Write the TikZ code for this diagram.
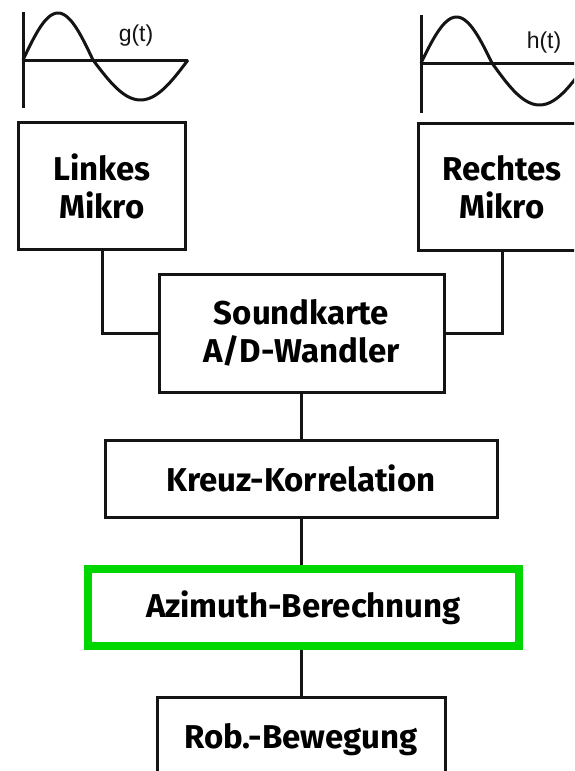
\documentclass[tikz,border=0pt]{standalone}
\usepackage{fontspec}
\setmainfont{Fira Sans}
\newfontfamily\plotfont{Liberation Sans}
\usetikzlibrary{positioning}
\definecolor{azigreen}{RGB}{0,214,0}
\definecolor{inkblack}{RGB}{20,20,20}
\newcommand\boxfont{\fontsize{33}{38}\selectfont\bfseries}
\tikzset{
  box/.style={draw=inkblack, line width=3pt, align=center, font=\boxfont, inner sep=0pt, fill=white},
  micbox/.style={box, minimum width=167pt, minimum height=127pt},
  wide/.style={box, minimum height=78pt},
  mark box/.style={box, draw=azigreen, line width=8pt},
  wire/.style={draw=inkblack, line width=3pt},
  wave/.style={draw=inkblack, line width=3pt},
  sig/.style={font=\plotfont\fontsize{23}{26}\selectfont, text=inkblack}}

\begin{document}
\begin{tikzpicture}[x=1pt, y=-1pt]
  \useasboundingbox (0,0) rectangle (574,771);
  \clip (0,0) rectangle (574,771);
  % signals
  \draw[wave] (23,12) -- (23,108);
  \draw[wave] (22,60) -- (188,60);
  \draw[wave, domain=0:1, samples=40, variable=\t] plot ({23+70*\t},{60-47*sin(180*\t)});
  \draw[wave, domain=0:1, samples=40, variable=\t] plot ({93+95*\t},{60+40*sin(180*\t)});
  \node[sig] (gl) at (136,36) {g(t)};
  \draw[wave] (421,15) -- (421,113);
  \draw[wave] (420,63) -- (580,63);
  \draw[wave, domain=0:1, samples=40, variable=\t] plot ({421+71*\t},{63-46*sin(180*\t)});
  \draw[wave, domain=0:1, samples=40, variable=\t] plot ({492+95*\t},{63+42*sin(180*\t)});
  \node[sig] (hl) at (544,43) {h(t)};
  % blocks
  \node[micbox] (lmic) at (102,186) {Linkes\\Mikro};
  \node[micbox, minimum width=168pt] (rmic) at (502,187) {Rechtes\\Mikro};
  \node[box, minimum width=285pt, minimum height=118pt] (sound) at (301.5,333) {Soundkarte\\A/D-Wandler};
  \node[wide, minimum width=392pt, minimum height=77pt] (kreuz) at (301,478.5) {Kreuz-Korrelation};
  \node[mark box, minimum width=431pt, minimum height=77pt] (azi) at (303.5,607.5) {Azimuth-Berechnung};
  \node[box, minimum width=288pt, minimum height=86pt] (rob) at (301,740) {Rob.-Bewegung};
  % wires
  \draw[wire] (lmic.south) |- (sound.west);
  \draw[wire] (rmic.south) |- (sound.east);
  \draw[wire] (sound.south) -- (sound.south |- kreuz.north);
  \draw[wire] (kreuz.south) -- (kreuz.south |- azi.north);
  \draw[wire] (rob.north |- azi.south) -- (rob.north);
\end{tikzpicture}
\end{document}
